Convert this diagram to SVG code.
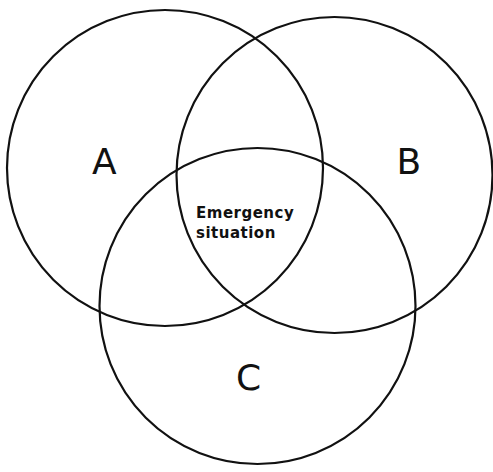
<svg xmlns="http://www.w3.org/2000/svg" width="493" height="472" viewBox="0 0 493 472">
<style>
.c{fill:none;stroke:#111;stroke-width:2.2}
.big{font-family:"DejaVu Sans",sans-serif;font-size:36px;fill:#111}
.sm{font-family:"DejaVu Sans",sans-serif;font-size:15px;font-weight:bold;fill:#111;letter-spacing:0.5px}
</style>
<rect width="493" height="472" fill="#fff"/>
<g id="A"><circle class="c" cx="165" cy="168" r="158"/><text class="big" x="92" y="174">A</text></g>
<g id="B"><circle class="c" cx="334.5" cy="175" r="158"/><text class="big" x="396.5" y="174">B</text></g>
<g id="C"><circle class="c" cx="257.5" cy="306" r="158"/><text class="big" x="236" y="390">C</text></g>
<g id="center"><text class="sm" x="196" y="218">Emergency</text><text class="sm" x="196" y="238">situation</text></g>
<g id="connectors"/>
</svg>
